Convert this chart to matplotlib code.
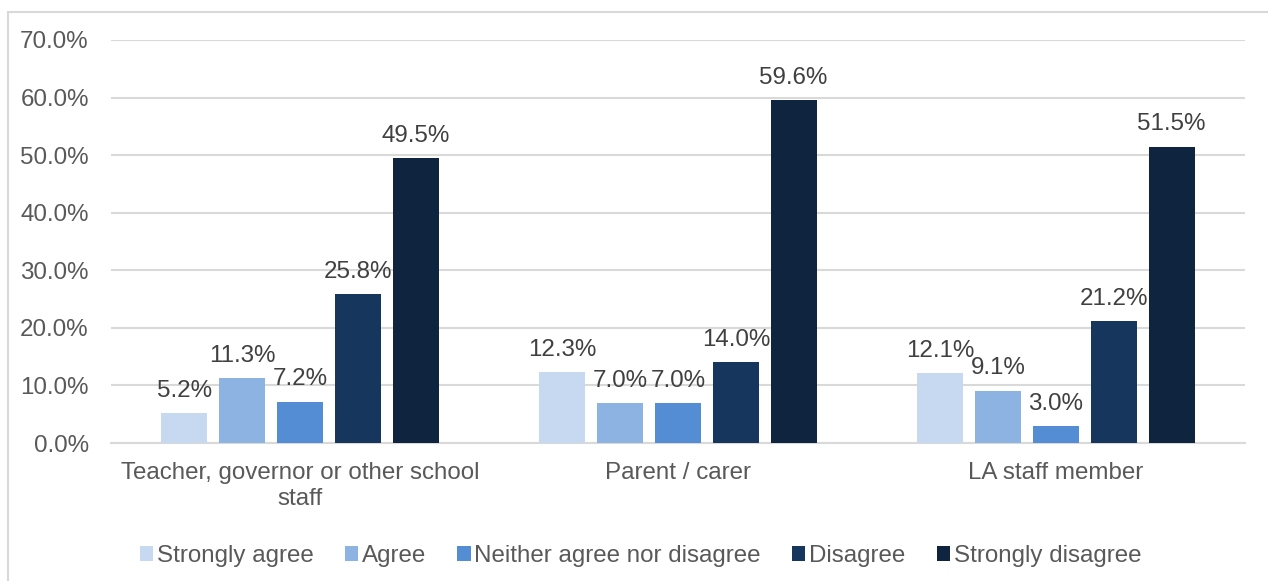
import matplotlib.pyplot as plt
import matplotlib.patches as mpatches
import numpy as np

# survey responses by respondent group
groups = ["Teacher, governor or other school\nstaff", "Parent / carer", "LA staff member"]
responses = ["Strongly agree", "Agree", "Neither agree nor disagree", "Disagree", "Strongly disagree"]
strongly_agree = [5.2, 12.3, 12.1]
agree = [11.3, 7.0, 9.1]
neither = [7.2, 7.0, 3.0]
disagree = [25.8, 14.0, 21.2]
strongly_disagree = [49.5, 59.6, 51.5]
yticks = [0, 10, 20, 30, 40, 50, 60, 70]

series = [strongly_agree, agree, neither, disagree, strongly_disagree]
colors = ["#c6d9f0", "#8db3e2", "#548dd4", "#17365d", "#0f243e"]

plt.rcParams['font.family'] = ['Liberation Sans', 'DejaVu Sans']
fs = 17.4

fig = plt.figure(figsize=(12.68, 5.81), dpi=100)
# light frame round the chart area
fig.patches.append(mpatches.Rectangle((8/1268, -0.1), 1.2, 1 - 12/581 + 0.1,
                                      transform=fig.transFigure, fill=False,
                                      edgecolor="#d9d9d9", linewidth=1.5))
ax = fig.add_axes([111/1268, 1 - 443/581, 1134/1268, 403/581])

x = np.arange(len(groups))
pitch = 0.153
width = 0.122
for i, (vals, col, name) in enumerate(zip(series, colors, responses)):
    bars = ax.bar(x + (i - 2) * pitch, vals, width, color=col, label=name, zorder=3)
    ax.bar_label(bars, labels=["{:.1f}%".format(v) for v in vals], padding=8,
                 fontsize=fs, color="#404040")

ax.set_xlim(-0.5, 2.5)
ax.set_ylim(0, 70)
ax.set_yticks(yticks)
ax.set_yticklabels(["{:.1f}%".format(t) for t in yticks])
ax.set_xticks(x)
ax.set_xticklabels(groups)
ax.tick_params(axis='both', length=0, labelsize=fs, labelcolor="#595959")
ax.tick_params(axis='y', pad=16)
ax.tick_params(axis='x', pad=14)
for lab in ax.get_xticklabels():
    lab.set_linespacing(1.2)
ax.grid(axis='y', color="#d9d9d9", linewidth=1.5, zorder=0)
for s in ['top', 'right', 'left']:
    ax.spines[s].set_visible(False)
ax.spines['bottom'].set_color("#d9d9d9")
ax.spines['bottom'].set_linewidth(1.5)

leg = fig.legend(loc='center', bbox_to_anchor=(0.505, 0.043), ncol=5, frameon=False,
                 fontsize=fs, handlelength=0.55, handleheight=0.55, handletextpad=0.15,
                 columnspacing=1.3)
for t in leg.get_texts():
    t.set_color("#595959")

fig.savefig("out.png", dpi=100)
